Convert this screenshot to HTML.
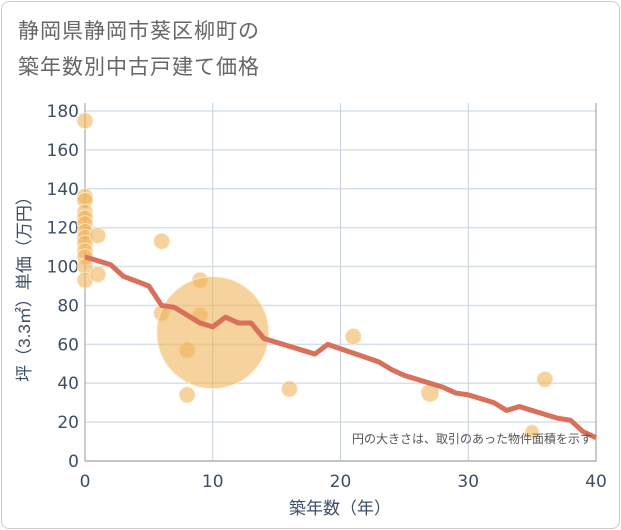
<!DOCTYPE html>
<html><head><meta charset="utf-8"><style>
body{margin:0;background:#fff;font-family:"Liberation Sans","Noto Sans CJK JP",sans-serif;}
.card{position:absolute;left:1px;top:1px;width:617px;height:526px;border:1px solid #ccc;border-radius:8px;}
.title{position:absolute;left:18px;top:14px;font-size:21px;line-height:36px;color:#666;letter-spacing:1px;}
</style></head><body>
<div class="card"></div>
<div class="title">静岡県静岡市葵区柳町の<br>築年数別中古戸建て価格</div>
<svg id="c" width="621" height="530" style="position:absolute;left:0;top:0"></svg>
<script>
const xTicks=[0,10,20,30,40];
const yTicks=[0,20,40,60,80,100,120,140,160,180];
const ptX=[0,0,0,0,0,0,0,0,0,0,0,0,0,1,1,6,6,9,9,8,8,10,16,21,27,35,36];
const ptY=[175,136,134,128,125,122,118,115,112,108,105,100,93,116,96,113,76,93,75,57,34,66,37,64,35,15,42];
const ptR=[8,8,8,8,8,8,8,8,8,8,8,8,8,8,8,8,8,8,8,8,8,56,8,8,9,7,8];
const lineX=[0,2,3,5,6,7,9,10,11,12,13,14,18,19,23,24,25,28,29,30,32,33,34,37,38,39,40];
const lineY=[105,101,95,90,80,79,71,69,74,71,71,63,55,60,51,47,44,38,35,34,30,26,28,22,21,15,12];
const L=85,R=596,T=103,B=461;
const sx=v=>L+(R-L)*v/40, sy=v=>B-(B-111)*v/180;
const svg=document.getElementById('c');const NS='http://www.w3.org/2000/svg';
const TF='"DejaVu Sans",sans-serif';
function mk(t,a,p){const e=document.createElementNS(NS,t);for(const k in a)e.setAttribute(k,a[k]);(p||svg).appendChild(e);return e;}
yTicks.forEach(v=>{const l=mk('line',{x1:L,x2:R,y1:sy(v),y2:sy(v),stroke:'#d5e0ec','stroke-width':1.5});

const t=mk('text',{x:L-6,y:sy(v)+6,'text-anchor':'end','font-size':17,'font-family':TF,fill:'#3d4f66'});t.textContent=v;
});
xTicks.forEach(v=>{const l=mk('line',{x1:sx(v),x2:sx(v),y1:T,y2:B,stroke:'#c5d2e2','stroke-width':1});

const t=mk('text',{x:sx(v),y:487,'text-anchor':'middle','font-size':17,'font-family':TF,fill:'#3d4f66'});t.textContent=v;
});
const ax=mk('path',{d:`M${L},${T}V${B}H${R}V${T}`,fill:'none',stroke:'#999','stroke-width':1});

ptX.forEach((x,i)=>{const c=mk('circle',{cx:sx(x),cy:sy(ptY[i]),r:ptR[i],fill:'rgba(240,180,90,0.6)',stroke:'rgba(255,240,220,0.8)','stroke-width':1});
});
const p=mk('polyline',{points:lineX.map((x,i)=>sx(x)+','+sy(lineY[i])).join(' '),fill:'none',stroke:'#d9705a','stroke-width':5,'stroke-linejoin':'round'});

const n=mk('text',{x:592,y:443,'text-anchor':'end','font-size':12,fill:'#555'});n.textContent='円の大きさは、取引のあった物件面積を示す';

const xt=mk('text',{x:340,y:514,'text-anchor':'middle','font-size':17,fill:'#3d4f66'});xt.textContent='築年数（年）';

const yt=mk('text',{x:0,y:0,'text-anchor':'middle','font-size':17,fill:'#3d4f66',transform:'translate(30,285) rotate(-90)'});yt.textContent='坪（3.3㎡）単価（万円）';

</script>
</body></html>
